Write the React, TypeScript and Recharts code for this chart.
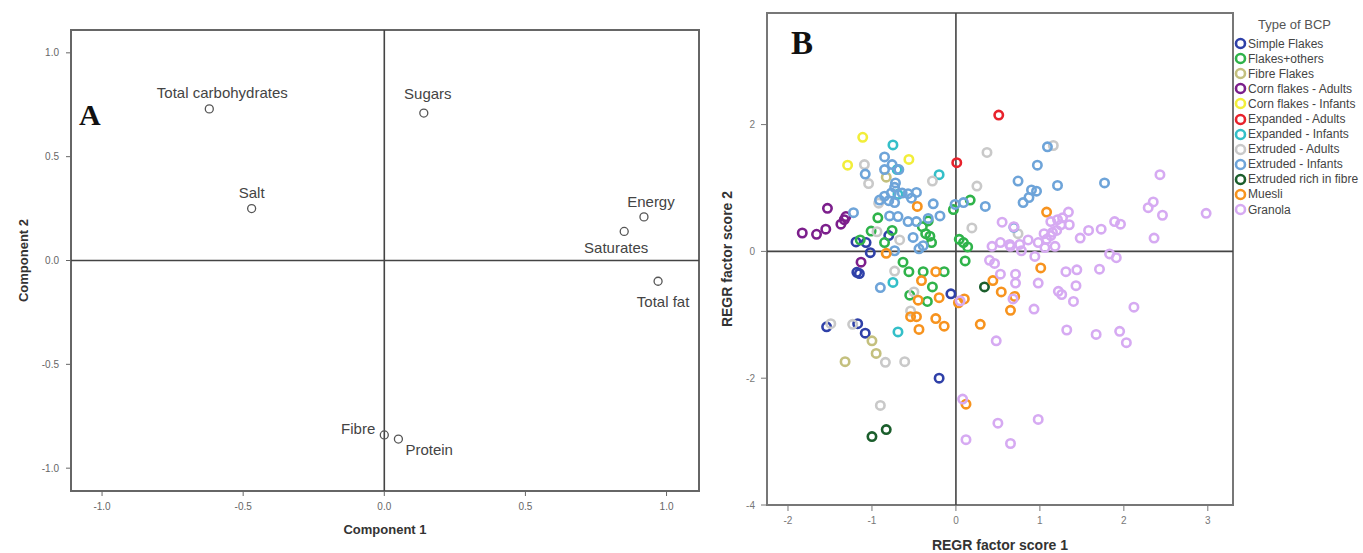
import { ScatterChart, Scatter, XAxis, YAxis, ReferenceLine, ReferenceArea, Legend } from 'recharts';

// ---- panel A: component loadings ----
const variableNames = ['Total carbohydrates', 'Sugars', 'Salt', 'Energy', 'Saturates', 'Total fat', 'Fibre', 'Protein'];
const component1 = [-0.62, 0.14, -0.47, 0.92, 0.85, 0.97, 0.0, 0.05];
const component2 = [0.73, 0.71, 0.25, 0.21, 0.14, -0.10, -0.84, -0.86];
const loadingTicks = [-1, -0.5, 0, 0.5, 1];

// ---- panel B: factor scores per type of BCP ----
const simpleFlakes = [[-1.19, 0.15], [-1.07, 0.14], [-1.02, -0.02], [-0.8, 0.25], [-1.18, -0.33], [-1.15, -0.35], [-1.54, -1.19], [-1.17, -1.14], [-1.08, -1.29], [-0.2, -2.0], [-0.06, -0.67]];
const flakesOthers = [[-1.14, 0.18], [-1.01, 0.32], [-0.93, 0.53], [-0.85, 0.14], [-0.76, 0.33], [-0.63, -0.17], [-0.56, -0.32], [-0.4, 0.39], [-0.36, 0.28], [-0.31, 0.24], [-0.29, 0.14], [-0.39, -0.32], [-0.28, -0.56], [-0.14, -0.32], [-0.55, -0.69], [-0.34, -0.79], [-0.03, 0.66], [0.17, 0.81], [0.04, 0.19], [0.09, 0.14], [0.14, 0.07], [0.11, -0.15], [-0.33, 0.48]];
const fibreFlakes = [[-1.0, -1.41], [-0.95, -1.61], [-1.32, -1.74], [-0.83, 1.17]];
const cornAdults = [[-1.83, 0.29], [-1.66, 0.27], [-1.55, 0.35], [-1.53, 0.68], [-1.37, 0.43], [-1.33, 0.5], [-1.31, 0.55], [-1.13, -0.17]];
const cornInfants = [[-1.11, 1.8], [-1.29, 1.36], [-0.56, 1.45]];
const expandedAdults = [[0.51, 2.15], [0.01, 1.4]];
const expandedInfants = [[-0.75, 1.68], [-0.7, 1.29], [-0.2, 1.21], [-0.69, 0.9], [-0.75, -0.49], [-0.69, -1.27]];
const extrudedAdults = [[-1.09, 1.37], [-1.04, 1.07], [-0.92, 0.76], [-0.94, 0.31], [-0.67, 0.18], [-0.73, -0.31], [-0.28, 1.11], [0.25, 1.03], [0.37, 1.56], [1.16, 1.67], [0.19, 0.37], [0.74, 0.28], [-0.54, -0.94], [-0.5, -0.64], [-1.49, -1.14], [-1.23, -1.15], [-0.84, -1.75], [-0.61, -1.74], [-0.9, -2.43]];
const extrudedInfants = [[-0.85, 1.49], [-1.08, 1.22], [-0.85, 1.29], [-0.76, 1.37], [-0.73, 1.01], [-0.85, 0.87], [-0.8, 0.8], [-0.73, 0.77], [-0.91, 0.81], [-0.77, 0.92], [-0.64, 0.92], [-0.57, 0.91], [-0.47, 0.93], [-0.53, 0.84], [-0.27, 0.75], [-0.19, 0.56], [-0.33, 0.52], [-0.79, 0.56], [-0.69, 0.55], [-0.57, 0.47], [-0.47, 0.47], [-0.51, 0.22], [-0.39, 0.09], [-0.44, 0.04], [-1.22, 0.61], [-0.73, 0.01], [-0.9, -0.57], [0.09, 0.77], [0.35, 0.71], [-0.01, 0.74], [0.74, 1.11], [0.97, 1.36], [1.09, 1.65], [0.9, 0.97], [0.96, 0.95], [0.87, 0.85], [0.8, 0.77], [1.21, 1.04], [1.77, 1.08], [0.69, 0.38], [-0.68, 1.29], [-0.72, 1.08]];
const extrudedFibre = [[0.34, -0.56], [-1.0, -2.92], [-0.83, -2.81]];
const muesli = [[-0.46, 0.71], [-0.83, -0.03], [-0.24, -0.32], [-0.41, -0.46], [-0.45, -0.77], [-0.2, -0.73], [-0.54, -1.03], [-0.47, -1.03], [-0.44, -1.23], [-0.24, -1.06], [-0.14, -1.18], [0.03, -0.81], [0.1, -0.75], [0.29, -1.15], [0.44, -0.46], [0.54, -0.64], [0.7, -0.71], [0.65, -0.93], [1.01, -0.26], [1.08, 0.62], [0.12, -2.41]];
const granola = [[0.55, 0.46], [0.69, 0.39], [0.43, 0.08], [0.53, 0.14], [0.65, 0.08], [0.78, 0.01], [0.86, 0.18], [0.98, 0.14], [1.06, 0.06], [1.08, 0.19], [1.13, 0.25], [1.18, 0.08], [1.13, 0.47], [1.21, 0.5], [1.27, 0.53], [1.34, 0.62], [1.35, 0.42], [1.2, 0.33], [1.48, 0.21], [1.58, 0.33], [1.73, 0.35], [1.89, 0.47], [1.96, 0.43], [1.83, -0.04], [1.91, -0.1], [2.29, 0.69], [2.35, 0.78], [2.46, 0.57], [2.43, 1.21], [2.36, 0.21], [2.98, 0.6], [0.4, -0.14], [0.46, -0.19], [0.53, -0.36], [0.71, -0.36], [0.71, -0.5], [0.98, -0.5], [0.68, -0.75], [0.93, -0.91], [1.31, -0.32], [1.44, -0.29], [1.71, -0.28], [1.43, -0.54], [1.22, -0.63], [1.26, -0.68], [1.4, -0.79], [2.12, -0.88], [1.32, -1.24], [1.67, -1.31], [1.95, -1.26], [2.03, -1.44], [0.48, -1.41], [0.08, -2.33], [0.5, -2.71], [0.98, -2.65], [0.12, -2.97], [0.65, -3.03], [0.05, -0.78], [0.94, -0.08], [0.64, 0.11], [0.76, 0.11], [1.15, 0.3], [1.25, 0.42], [1.05, 0.28]];

const bcpTypes = ['Simple Flakes', 'Flakes+others', 'Fibre Flakes', 'Corn flakes - Adults', 'Corn flakes - Infants', 'Expanded - Adults', 'Expanded - Infants', 'Extruded - Adults', 'Extruded - Infants', 'Extruded rich in fibre', 'Muesli', 'Granola'];
const bcpScores = [simpleFlakes, flakesOthers, fibreFlakes, cornAdults, cornInfants, expandedAdults, expandedInfants, extrudedAdults, extrudedInfants, extrudedFibre, muesli, granola];
const scoreXTicks = [-2, -1, 0, 1, 2, 3];
const scoreYTicks = [-4, -2, 0, 2];

// styling
const bcpColors = ['#2f40a8', '#2fb34a', '#c4c07e', '#7c1f8c', '#f2ee3a', '#e8222c', '#34bfc8', '#c9c9c9', '#6ea4d9', '#1b5e2c', '#f7931e', '#d6aaf2'];
const labelPlacement: Record<string, { dx: number; dy: number; anchor: string }> = {
  'Total carbohydrates': { dx: 13, dy: -11, anchor: 'middle' },
  Sugars: { dx: 4, dy: -14, anchor: 'middle' },
  Salt: { dx: 0, dy: -11, anchor: 'middle' },
  Energy: { dx: 7, dy: -10, anchor: 'middle' },
  Saturates: { dx: -8, dy: 22, anchor: 'middle' },
  'Total fat': { dx: 5, dy: 26, anchor: 'middle' },
  Fibre: { dx: -9, dy: -1, anchor: 'end' },
  Protein: { dx: 7, dy: 16, anchor: 'start' },
};

const loadingData = variableNames.map((name, i) => ({ name, x: component1[i], y: component2[i] }));

const FONT = '"Liberation Sans", Arial, sans-serif';
const A_X: [number, number] = [-1.11, 1.115];
const A_Y: [number, number] = [-1.11, 1.11];
const B_X: [number, number] = [-2.25, 3.3];
const B_Y: [number, number] = [-4, 3.76];

const LoadingPoint = (props: any) => {
  const { cx, cy, payload } = props;
  const p = labelPlacement[payload.name];
  return (
    <g>
      <circle cx={cx} cy={cy} r={4} fill="none" stroke="#555" strokeWidth={1.3} />
      <text x={cx + p.dx} y={cy + p.dy} textAnchor={p.anchor} fontSize={15} fill="#444" fontFamily={FONT}>
        {payload.name}
      </text>
    </g>
  );
};

const ringShape = (color: string) => (props: any) => (
  <circle cx={props.cx} cy={props.cy} r={4.2} fill="none" stroke={color} strokeWidth={2.6} />
);

const BcpLegend = () => (
  <div style={{ fontFamily: FONT, color: '#444' }}>
    <div style={{ fontSize: 13, marginLeft: 24, marginBottom: 4, color: '#555' }}>Type of BCP</div>
    {bcpTypes.map((t, i) => (
      <div key={t} style={{ display: 'flex', alignItems: 'center', height: 15.1, fontSize: 12, whiteSpace: 'nowrap' }}>
        <svg width={13} height={13} style={{ marginRight: 1 }}>
          <circle cx={6.5} cy={6.5} r={4.5} fill="none" stroke={bcpColors[i]} strokeWidth={2.6} />
        </svg>
        <span>{t}</span>
      </div>
    ))}
  </div>
);

export default function App() {
  return (
    <div style={{ position: 'absolute', left: 0, top: 0, width: 1363, height: 553, background: '#fff', overflow: 'hidden' }}>
      <div style={{ position: 'absolute', left: 0, top: 0 }}>
        <ScatterChart width={700} height={553} margin={{ top: 30, right: 1, bottom: 32, left: 21 }}>
          <XAxis
            type="number"
            dataKey="x"
            domain={A_X}
            allowDataOverflow
            ticks={loadingTicks}
            tickFormatter={(v: number) => v.toFixed(1)}
            tick={{ fontSize: 10, fill: '#666', fontFamily: FONT }}
            tickLine={{ stroke: '#666' }}
            tickSize={5}
            tickMargin={7}
            axisLine={false}
            height={30}
            label={{ value: 'Component 1', position: 'bottom', offset: 4, style: { fontSize: 13, fontWeight: 'bold', fill: '#333', fontFamily: FONT } }}
          />
          <YAxis
            type="number"
            dataKey="y"
            domain={A_Y}
            allowDataOverflow
            ticks={loadingTicks}
            tickFormatter={(v: number) => v.toFixed(1)}
            tick={{ fontSize: 10, fill: '#666', fontFamily: FONT }}
            tickLine={{ stroke: '#666' }}
            tickSize={5}
            tickMargin={7}
            axisLine={false}
            width={50}
            label={{ value: 'Component 2', angle: -90, position: 'insideLeft', offset: 2, style: { textAnchor: 'middle', fontSize: 13, fontWeight: 'bold', fill: '#333', fontFamily: FONT } }}
          />
          <ReferenceArea x1={A_X[0]} x2={A_X[1]} y1={A_Y[0]} y2={A_Y[1]} fill="none" fillOpacity={0} stroke="#666" strokeWidth={2} />
          <ReferenceLine x={0} stroke="#444" strokeWidth={1.6} />
          <ReferenceLine y={0} stroke="#444" strokeWidth={1.6} />
          <Scatter data={loadingData} shape={LoadingPoint} isAnimationActive={false} />
        </ScatterChart>
        <div style={{ position: 'absolute', left: 79, top: 98, fontFamily: '"Liberation Serif", "DejaVu Serif", serif', fontWeight: 'bold', fontSize: 30, color: '#111' }}>A</div>
      </div>

      <div style={{ position: 'absolute', left: 700, top: 0 }}>
        <ScatterChart width={663} height={553} margin={{ top: 13, right: 1, bottom: 23, left: 22 }}>
          <XAxis
            type="number"
            dataKey="x"
            domain={B_X}
            allowDataOverflow
            ticks={scoreXTicks}
            tick={{ fontSize: 10, fill: '#777', fontFamily: FONT }}
            tickLine={{ stroke: '#777' }}
            tickSize={6}
            tickMargin={6}
            axisLine={false}
            height={25}
            label={{ value: 'REGR factor score 1', position: 'bottom', offset: 10, style: { fontSize: 14, fontWeight: 'bold', fill: '#333', fontFamily: FONT } }}
          />
          <YAxis
            type="number"
            dataKey="y"
            domain={B_Y}
            allowDataOverflow
            ticks={scoreYTicks}
            tick={{ fontSize: 10, fill: '#777', fontFamily: FONT }}
            tickLine={{ stroke: '#777' }}
            tickSize={6}
            tickMargin={6}
            axisLine={false}
            width={45}
            label={{ value: 'REGR factor score 2', angle: -90, position: 'insideLeft', offset: 5, style: { textAnchor: 'middle', fontSize: 14, fontWeight: 'bold', fill: '#333', fontFamily: FONT } }}
          />
          <ReferenceArea x1={B_X[0]} x2={B_X[1]} y1={B_Y[0]} y2={B_Y[1]} fill="none" fillOpacity={0} stroke="#777" strokeWidth={2} />
          <ReferenceLine x={0} stroke="#444" strokeWidth={1.6} />
          <ReferenceLine y={0} stroke="#444" strokeWidth={1.6} />
          {bcpTypes.map((t, i) => (
            <Scatter
              key={t}
              name={t}
              data={bcpScores[i].map(([x, y]) => ({ x, y }))}
              shape={ringShape(bcpColors[i])}
              isAnimationActive={false}
            />
          ))}
          <Legend
            layout="horizontal"
            verticalAlign="middle"
            align="right"
            content={BcpLegend}
            wrapperStyle={{ position: 'absolute', left: 534, top: 17, width: 129, height: 'auto' }}
          />
        </ScatterChart>
        <div style={{ position: 'absolute', left: 91, top: 25, fontFamily: '"Liberation Serif", "DejaVu Serif", serif', fontWeight: 'bold', fontSize: 33, color: '#111' }}>B</div>
      </div>
    </div>
  );
}
